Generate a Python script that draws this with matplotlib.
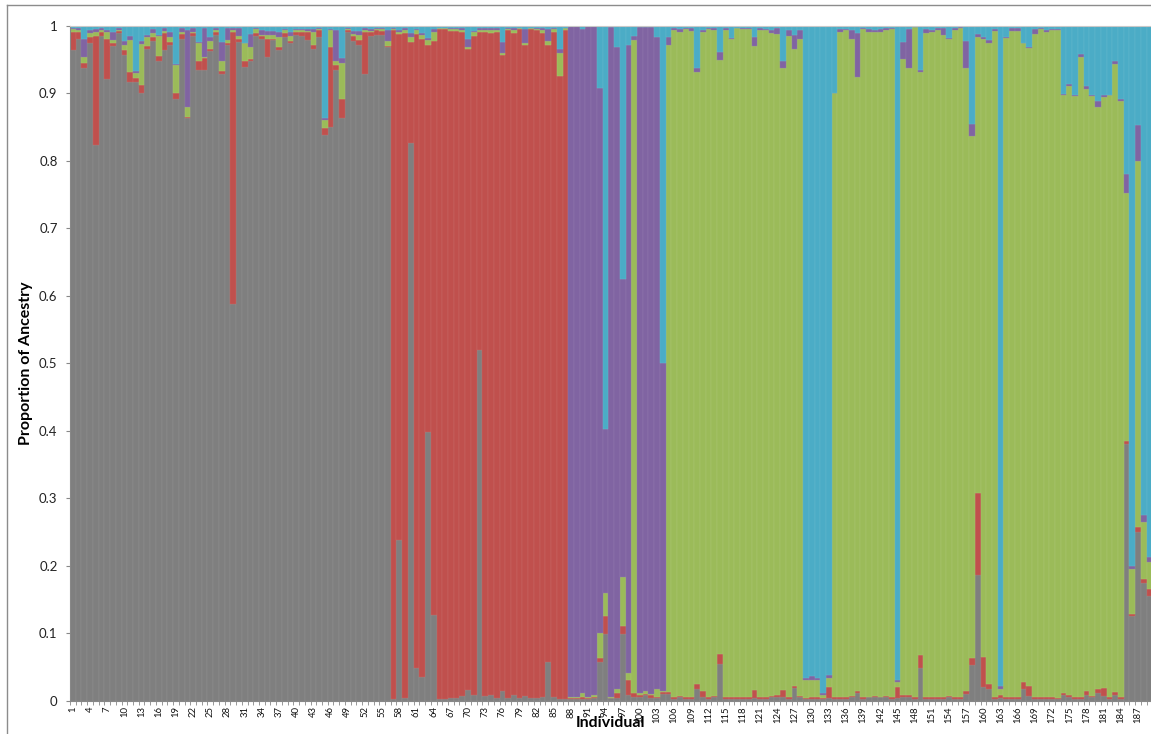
import numpy as np
import matplotlib
matplotlib.use("Agg")
import matplotlib.pyplot as plt
from matplotlib.lines import Line2D
from matplotlib.colors import to_rgb

plt.rcParams['font.family'] = ['Lato', 'DejaVu Sans']

# ancestry proportions per individual (1..189), five clusters stacked bottom->top
grey = [
    .964, .980, .938, .975, .823, .985, .921, .970, .989, .957,
    .916, .916, .901, .965, .978, .948, .964, .972, .891, .980,
    .863, .985, .934, .935, .962, .986, .928, .972, .588, .976,
    .939, .948, .985, .980, .953, .979, .964, .983, .974, .986,
    .985, .979, .966, .983, .838, .850, .934, .863, .991, .978,
    .971, .928, .985, .986, .986, .969, .003, .238, .004, .826,
    .048, .035, .398, .127, .002, .002, .004, .004, .007, .016,
    .009, .520, .007, .008, .004, .014, .004, .009, .004, .007,
    .004, .004, .005, .057, .005, .003, .002, .003, .003, .003,
    .003, .004, .058, .099, .004, .004, .099, .008, .006, .006,
    .008, .004, .004, .010, .010, .002, .005, .002, .003, .018,
    .006, .002, .005, .054, .002, .002, .002, .003, .002, .004,
    .002, .002, .005, .005, .005, .002, .019, .005, .002, .002,
    .002, .002, .004, .002, .002, .002, .005, .011, .002, .005,
    .005, .005, .005, .002, .004, .006, .006, .003, .048, .002,
    .002, .002, .002, .005, .002, .002, .010, .053, .186, .020,
    .017, .002, .004, .003, .002, .003, .017, .007, .002, .002,
    .002, .002, .002, .008, .005, .003, .002, .008, .005, .011,
    .007, .002, .008, .003, .380, .125, .250, .175, .155,
]
red = [
    .027, .010, .007, .008, .162, .005, .059, .005, .003, .007,
    .016, .006, .011, .005, .005, .007, .025, .004, .009, .007,
    .002, .004, .013, .017, .004, .004, .005, .003, .403, .005,
    .008, .002, .004, .005, .027, .002, .005, .006, .004, .004,
    .005, .011, .005, .010, .010, .119, .008, .028, .002, .007,
    .008, .063, .005, .007, .006, .001, .990, .749, .985, .150,
    .939, .946, .574, .851, .993, .993, .988, .988, .983, .949,
    .976, .471, .984, .981, .987, .942, .990, .980, .991, .964,
    .991, .989, .984, .914, .986, .922, .992, .001, .001, .002,
    .001, .002, .006, .027, .000, .008, .012, .023, .006, .002,
    .002, .004, .002, .003, .003, .003, .002, .003, .003, .007,
    .009, .003, .002, .015, .003, .003, .003, .003, .003, .012,
    .003, .003, .002, .003, .011, .003, .003, .002, .002, .004,
    .003, .002, .017, .003, .003, .003, .002, .003, .003, .001,
    .002, .001, .002, .003, .017, .003, .003, .003, .020, .003,
    .003, .003, .003, .002, .003, .003, .005, .011, .122, .045,
    .008, .003, .004, .002, .003, .002, .010, .015, .004, .003,
    .003, .003, .002, .004, .003, .003, .004, .007, .002, .006,
    .012, .003, .005, .003, .005, .003, .008, .005, .010,
]
green = [
    .004, .004, .008, .006, .005, .003, .010, .004, .002, .007,
    .047, .008, .061, .014, .006, .030, .003, .007, .042, .003,
    .014, .002, .028, .002, .012, .003, .014, .004, .003, .004,
    .027, .018, .006, .001, .006, .005, .014, .004, .007, .003,
    .003, .002, .020, .002, .012, .024, .006, .054, .002, .002,
    .007, .003, .002, .002, .003, .008, .002, .004, .004, .008,
    .007, .005, .007, .013, .001, .001, .003, .003, .003, .004,
    .005, .003, .002, .004, .003, .004, .001, .005, .001, .004,
    .001, .002, .004, .006, .004, .035, .002, .002, .002, .006,
    .002, .002, .037, .033, .002, .005, .072, .010, .967, .004,
    .005, .002, .011, .001, .958, .989, .984, .990, .986, .907,
    .976, .990, .987, .880, .989, .976, .991, .989, .990, .954,
    .989, .988, .982, .980, .921, .980, .943, .973, .026, .025,
    .026, .004, .012, .895, .986, .988, .974, .910, .990, .985,
    .983, .984, .987, .990, .006, .941, .928, .992, .863, .984,
    .986, .989, .981, .974, .988, .991, .923, .773, .676, .916,
    .950, .987, .010, .977, .987, .987, .947, .945, .982, .990,
    .985, .988, .989, .885, .903, .890, .947, .891, .889, .863,
    .876, .892, .930, .882, .367, .067, .542, .085, .040,
]
purple = [
    .001, .002, .027, .005, .005, .003, .004, .012, .002, .007,
    .006, .003, .005, .002, .006, .001, .004, .008, .002, .006,
    .114, .006, .001, .042, .006, .004, .029, .018, .002, .011,
    .001, .019, .001, .007, .006, .006, .007, .002, .005, .002,
    .002, .003, .004, .001, .004, .002, .046, .007, .001, .005,
    .006, .002, .003, .001, .001, .015, .002, .003, .003, .005,
    .001, .003, .003, .004, .001, .001, .001, .001, .003, .012,
    .002, .002, .003, .003, .002, .016, .001, .002, .001, .020,
    .001, .001, .003, .018, .001, .006, .001, .993, .993, .984,
    .993, .991, .807, .243, .992, .952, .442, .930, .006, .986,
    .983, .988, .966, .486, .012, .002, .004, .001, .004, .006,
    .002, .001, .002, .012, .002, .001, .001, .001, .001, .013,
    .002, .002, .005, .008, .010, .008, .021, .014, .004, .005,
    .002, .004, .005, .001, .004, .002, .013, .065, .002, .004,
    .003, .005, .002, .002, .003, .026, .058, .000, .003, .006,
    .002, .002, .010, .001, .003, .002, .039, .017, .003, .002,
    .004, .003, .004, .002, .004, .004, .001, .001, .007, .001,
    .004, .002, .002, .002, .002, .001, .005, .005, .001, .008,
    .002, .001, .004, .003, .028, .005, .053, .010, .008,
]
blue = [
    .004, .004, .020, .006, .005, .004, .006, .009, .004, .022,
    .015, .067, .022, .014, .005, .014, .004, .009, .056, .004,
    .007, .003, .024, .004, .016, .003, .024, .003, .004, .004,
    .025, .013, .004, .007, .008, .008, .010, .005, .010, .005,
    .005, .005, .005, .004, .136, .005, .006, .048, .004, .008,
    .008, .004, .005, .004, .004, .007, .003, .006, .004, .011,
    .005, .011, .018, .005, .003, .003, .004, .004, .004, .019,
    .008, .004, .004, .004, .004, .024, .004, .004, .003, .005,
    .003, .004, .004, .005, .004, .034, .003, .001, .001, .005,
    .001, .001, .092, .598, .002, .031, .375, .029, .015, .002,
    .002, .002, .017, .500, .017, .004, .005, .004, .004, .062,
    .007, .004, .004, .039, .004, .018, .003, .004, .004, .017,
    .004, .005, .006, .004, .053, .007, .014, .006, .966, .964,
    .967, .988, .962, .099, .005, .005, .006, .011, .003, .005,
    .007, .005, .004, .003, .970, .024, .005, .002, .066, .005,
    .007, .004, .004, .018, .004, .002, .023, .146, .013, .017,
    .021, .005, .978, .016, .004, .004, .025, .032, .005, .004,
    .006, .005, .005, .101, .087, .103, .042, .089, .103, .112,
    .103, .102, .053, .109, .220, .800, .147, .725, .787,
]

series = [grey, red, green, purple, blue]
colors = ["#7f7f7f", "#c0504d", "#9bbb59", "#8064a2", "#4bacc6"]

n = len(grey)
x = np.arange(1, n + 1)

fig = plt.figure(figsize=(11.51, 7.34), dpi=100)
ax = fig.add_axes([70 / 1151, 33.3 / 734, 1082.4 / 1151, 675 / 734])

bottom = np.zeros(n)
for vals, col in zip(series, colors):
    vals = np.array(vals)
    # faint lighter outline, like the Excel bar borders
    edge = tuple(0.85 * np.array(to_rgb(col)) + 0.15)
    ax.bar(x, vals, bottom=bottom, width=1.0, color=col,
           edgecolor=edge, linewidth=0.3)
    bottom += vals

ax.set_xlim(0.5, n + 0.5)
ax.set_ylim(0, 1)

# y axis
ax.set_yticks(np.arange(0, 1.01, 0.1))
ax.set_yticklabels(["0", "0.1", "0.2", "0.3", "0.4", "0.5",
                    "0.6", "0.7", "0.8", "0.9", "1"])
ax.tick_params(axis="y", length=3, width=0.8, color="#888888",
               pad=6, labelsize=9.5, labelcolor="#222222")

# x axis: labels every third individual, tick marks at category boundaries
ax.set_xticks(x[::3])
ax.set_xticklabels([str(i) for i in x[::3]], rotation=90)
ax.set_xticks(np.arange(0.5, n + 1), minor=True)
ax.tick_params(axis="x", which="major", length=0, pad=4,
               labelsize=6.8, labelcolor="#111111")
ax.tick_params(axis="x", which="minor", length=3, width=0.6, color="#888888")

for side in ["left", "bottom"]:
    ax.spines[side].set_color("#888888")
    ax.spines[side].set_linewidth(0.8)
ax.spines["top"].set_color("#c8c8c8")
ax.spines["top"].set_linewidth(0.8)
ax.spines["right"].set_visible(False)

ax.set_ylabel("Proportion of Ancestry", fontsize=11.5, fontweight="bold")
ax.yaxis.set_label_coords(-0.034, 0.5)
ax.set_xlabel("Individual", fontsize=11.5, fontweight="bold")
ax.xaxis.set_label_coords(0.499, -0.023)

# outer chart-area border
fig.add_artist(Line2D([6.5 / 1151, 6.5 / 1151], [0, 1 - 5 / 734],
                      transform=fig.transFigure, color="#8c8c8c", lw=1))
fig.add_artist(Line2D([6.5 / 1151, 1], [1 - 5 / 734, 1 - 5 / 734],
                      transform=fig.transFigure, color="#8c8c8c", lw=1))

fig.savefig("out.png", dpi=100)
